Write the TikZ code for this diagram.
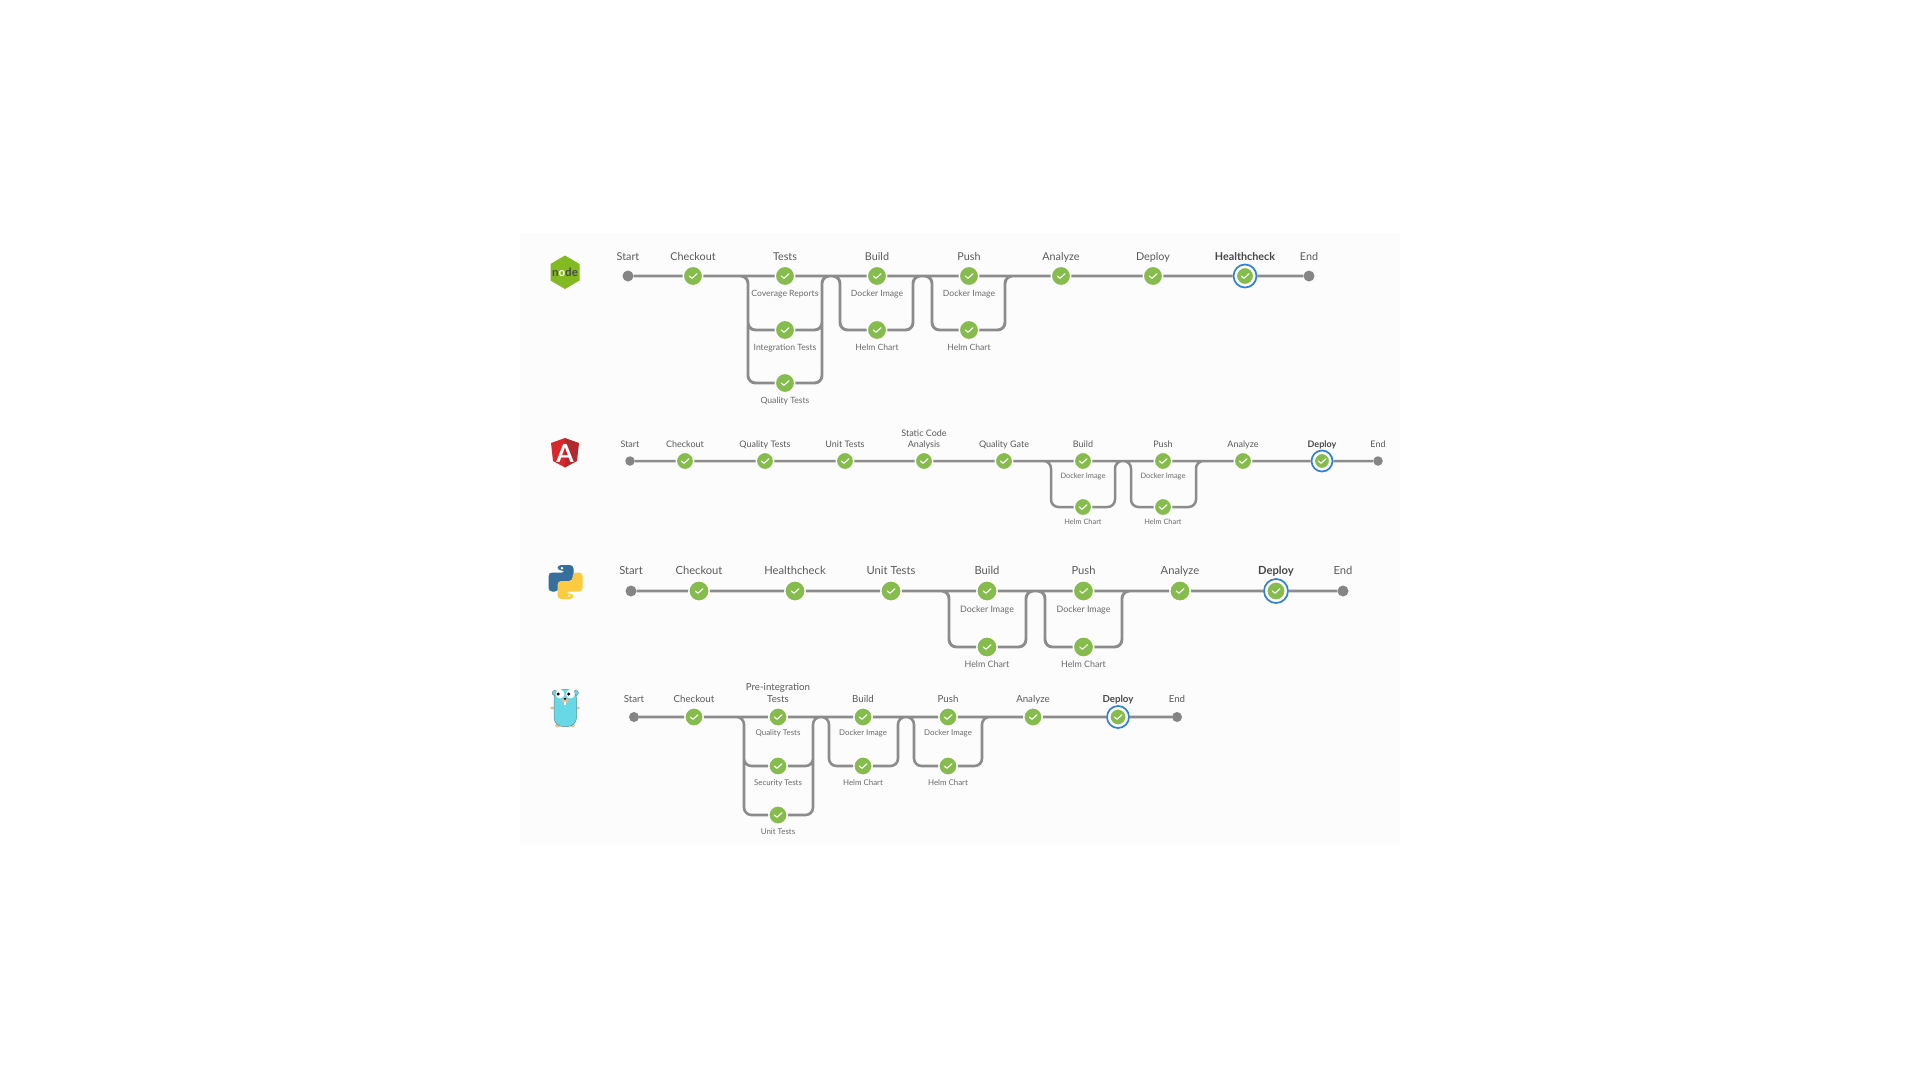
\documentclass[tikz,border=0pt]{standalone}
\usepackage{fontspec}
\setmainfont{Lato}
\usetikzlibrary{calc}
\definecolor{panelbg}{HTML}{FCFCFC}
\definecolor{pipegray}{HTML}{8C8C8C}
\definecolor{okgreen}{HTML}{86BC4E}
\definecolor{ringblue}{HTML}{2F80D8}
\definecolor{headtxt}{HTML}{5A5A5A}
\definecolor{subtxt}{HTML}{6A6A6A}
\definecolor{boldtxt}{HTML}{484848}
\definecolor{nodegreen}{HTML}{83BA22}
\definecolor{ngred}{HTML}{D9272E}
\definecolor{ngdark}{HTML}{B12A30}
\definecolor{pyblue}{HTML}{366F9E}
\definecolor{pyyellow}{HTML}{FDCB42}
\definecolor{gocyan}{HTML}{68D8E6}
\definecolor{goedge}{HTML}{5F8F96}
\definecolor{gotan}{HTML}{E8BE92}
\tikzset{
  okdot/.style={circle,minimum size=#1+1.4,inner sep=0pt,fill=okgreen,draw=white,line width=1.4pt,
    path picture={\draw[white,line width=1.05pt,line cap=round,line join=round,
      shift={(path picture bounding box.center)},scale=#1/18]
      (-3.7,0) -- (-1,2.3) -- (4,-2.3);}},
  ringdot/.style={circle,minimum size=#1,inner sep=0pt,fill=white,draw=ringblue,line width=1.7pt},
  enddot/.style={circle,minimum size=#1,inner sep=0pt,fill=pipegray!95!black},
  head/.style={font=\fontsize{#1}{#1}\selectfont,text=headtxt,anchor=base,inner sep=0pt,align=center},
  headb/.style={font=\fontsize{#1}{#1}\selectfont\bfseries,text=boldtxt,anchor=base,inner sep=0pt},
  sub/.style={font=\fontsize{#1}{#1}\selectfont,text=subtxt,anchor=base,inner sep=0pt},
  pipe/.style={draw=pipegray,line width=#1,rounded corners=7.5pt},
}
% name, x, y, dot size, label style, label baseline, label
\newcommand{\okstage}[7]{\node[okdot=#4] (#1) at (#2,#3) {};\node[#5] (#1t) at (#2,#6) {#7};}
\newcommand{\okactive}[7]{\node[ringdot=#4+5] (#1) at (#2,#3) {};\node[okdot=#4-2] (#1c) at (#2,#3) {};\node[#5] (#1t) at (#2,#6) {#7};}
\newcommand{\termstage}[7]{\node[enddot=#4] (#1) at (#2,#3) {};\node[#5] (#1t) at (#2,#6) {#7};}
\begin{document}
\begin{tikzpicture}[x=1pt,y=-1pt]
\useasboundingbox (0,0) rectangle (1920,1080);
\fill[white] (0,0) rectangle (1920,1080);
\fill[panelbg] (520,233) rectangle (1400,846);

% ---------- logos ----------
\fill[nodegreen] (565,255.5) -- (579.5,264) -- (579.5,280.5) -- (565,289) -- (550.5,280.5) -- (550.5,264) -- cycle;
\node[font=\fontsize{11.5}{12}\selectfont\bfseries,text=boldtxt,inner sep=0pt] (nodelogo) at (565,272) {n\textcolor{white}{o}de};

\fill[ngred] (565,438) -- (551,443) -- (553,461) -- (565,467.5) -- cycle;
\fill[ngdark] (565,438) -- (579,443) -- (577,461) -- (565,467.5) -- cycle;
\node[font=\fontsize{25}{25}\selectfont\bfseries,text=white,inner sep=0pt] (nglogo) at (565,453) {A};

\begin{scope}[shift={(565.5,582)}]
  \fill[pyblue,rounded corners=3.6pt] (-8,-17) -- (8,-17) -- (8,1) -- (-7,1) -- (-7,9.5) -- (-17,9.5) -- (-17,-9.5) -- (0,-9.5) -- (0,-11.5) -- (-8,-11.5) -- cycle;
  \fill[white] (-3.6,-13.8) circle (1.4);
  \begin{scope}[rotate=180]
    \fill[pyyellow,rounded corners=3.6pt] (-8,-17) -- (8,-17) -- (8,1) -- (-7,1) -- (-7,9.5) -- (-17,9.5) -- (-17,-9.5) -- (0,-9.5) -- (0,-11.5) -- (-8,-11.5) -- cycle;
    \fill[white] (-3.6,-13.8) circle (1.4);
  \end{scope}
\end{scope}

\fill[gotan] (552.5,708) ellipse (2.3 and 1.4);
\fill[gotan] (577.5,708) ellipse (2.3 and 1.4);
\fill[gotan] (557.5,725.5) ellipse (2.4 and 1.6);
\fill[gotan] (572.5,725.5) ellipse (2.4 and 1.6);
\filldraw[fill=gocyan,draw=goedge,line width=.5pt] (554.8,693) circle (2.6);
\filldraw[fill=gocyan,draw=goedge,line width=.5pt] (575.8,693) circle (2.6);
\filldraw[fill=gocyan,draw=goedge,line width=.5pt,rounded corners=9pt] (554,689.5) rectangle (576.5,726.5);
\fill[white] (560,694) circle (4.5);
\fill[white] (570.5,694) circle (4.5);
\fill[black] (558.2,694) circle (1.7);
\fill[black] (568.7,694) circle (1.7);
\fill[gotan] (565,700.5) ellipse (3.2 and 2.6);
\fill[black] (565,698.8) ellipse (1.5 and 1);
\fill[white] (563.8,702) rectangle (566.2,704.8);

% ---------- row 1 (Node) ----------
\termstage{aStart}{628}{276}{11}{head=10.8}{260.7}{Start}
\okstage{aChk}{693}{276}{18}{head=10.8}{260.7}{Checkout}
\okstage{aTst}{785}{276}{18}{head=10.8}{260.7}{Tests}
\okstage{aBld}{877}{276}{18}{head=10.8}{260.7}{Build}
\okstage{aPsh}{969}{276}{18}{head=10.8}{260.7}{Push}
\okstage{aAna}{1061}{276}{18}{head=10.8}{260.7}{Analyze}
\okstage{aDep}{1153}{276}{18}{head=10.8}{260.7}{Deploy}
\okactive{aHc}{1245}{276}{18}{headb=10.8}{260.7}{Healthcheck}
\termstage{aEnd}{1309}{276}{11}{head=10.8}{260.7}{End}
\node[sub=8.6] (aCov) at (785,296.7) {Coverage Reports};
\node[sub=8.6] (aBldS) at (877,296.7) {Docker Image};
\node[sub=8.6] (aPshS) at (969,296.7) {Docker Image};
\okstage{aInt}{785}{330}{18}{sub=8.6}{350.3}{Integration Tests}
\okstage{aQua}{785}{383}{18}{sub=8.6}{403.7}{Quality Tests}
\okstage{aHb}{877}{330}{18}{sub=8.6}{350.3}{Helm Chart}
\okstage{aHp}{969}{330}{18}{sub=8.6}{350.3}{Helm Chart}
\coordinate (aL1) at (748,330); \coordinate (aL2) at (748,383);
\coordinate (aR1) at (822,330); \coordinate (aR2) at (822,383);
\coordinate (aBL) at (840,330); \coordinate (aBR) at (913,330);
\coordinate (aPL) at (932,330); \coordinate (aPR) at (1005,330);
\draw[pipe=2.9pt]
  (aStart) -- (aChk)
  (aChk) -- (aTst)
  (aTst) -- (aBld)
  (aBld) -- (aPsh)
  (aPsh) -- (aAna)
  (aAna) -- (aDep)
  (aDep) -- (aHc)
  (aHc) -- (aEnd)
  (aChk) -| (aL1) -- (aInt)
  (aChk) -| (aL2) -- (aQua)
  (aInt) -- (aR1) |- (aBld)
  (aQua) -- (aR2) |- (aBld)
  (aTst) -| (aBL) -- (aHb)
  (aHb) -- (aBR) |- (aPsh)
  (aBld) -| (aPL) -- (aHp)
  (aHp) -- (aPR) |- (aAna);

% ---------- row 2 (Angular) ----------
\termstage{bStart}{630}{461}{9.5}{head=9}{447.3}{Start}
\okstage{bChk}{685}{461}{16}{head=9}{447.3}{Checkout}
\okstage{bQt}{765}{461}{16}{head=9}{447.3}{Quality Tests}
\okstage{bUt}{845}{461}{16}{head=9}{447.3}{Unit Tests}
\okstage{bSca}{924}{461}{16}{head=9}{447.3}{Static Code\\[2pt]Analysis}
\okstage{bQg}{1004}{461}{16}{head=9}{447.3}{Quality Gate}
\okstage{bBld}{1083}{461}{16}{head=9}{447.3}{Build}
\okstage{bPsh}{1163}{461}{16}{head=9}{447.3}{Push}
\okstage{bAna}{1243}{461}{16}{head=9}{447.3}{Analyze}
\okactive{bDep}{1322}{461}{16}{headb=9}{447.3}{Deploy}
\termstage{bEnd}{1378}{461}{9.5}{head=9}{447.3}{End}
\node[sub=7.4] (bBldS) at (1083,478.3) {Docker Image};
\node[sub=7.4] (bPshS) at (1163,478.3) {Docker Image};
\okstage{bHb}{1083}{507}{16}{sub=7.4}{524.7}{Helm Chart}
\okstage{bHp}{1163}{507}{16}{sub=7.4}{524.7}{Helm Chart}
\coordinate (bBL) at (1051,507); \coordinate (bBR) at (1115,507);
\coordinate (bPL) at (1131,507); \coordinate (bPR) at (1196,507);
\draw[pipe=2.5pt]
  (bStart) -- (bChk)
  (bChk) -- (bQt)
  (bQt) -- (bUt)
  (bUt) -- (bSca)
  (bSca) -- (bQg)
  (bQg) -- (bBld)
  (bBld) -- (bPsh)
  (bPsh) -- (bAna)
  (bAna) -- (bDep)
  (bDep) -- (bEnd)
  (bQg) -| (bBL) -- (bHb)
  (bHb) -- (bBR) |- (bPsh)
  (bBld) -| (bPL) -- (bHp)
  (bHp) -- (bPR) |- (bAna);

% ---------- row 3 (Python) ----------
\termstage{cStart}{631}{591}{11}{head=11.2}{574.3}{Start}
\okstage{cChk}{699}{591}{19}{head=11.2}{574.3}{Checkout}
\okstage{cHc}{795}{591}{19}{head=11.2}{574.3}{Healthcheck}
\okstage{cUt}{891}{591}{19}{head=11.2}{574.3}{Unit Tests}
\okstage{cBld}{987}{591}{19}{head=11.2}{574.3}{Build}
\okstage{cPsh}{1083.5}{591}{19}{head=11.2}{574.3}{Push}
\okstage{cAna}{1180}{591}{19}{head=11.2}{574.3}{Analyze}
\okactive{cDep}{1276}{591}{19}{headb=11.2}{574.3}{Deploy}
\termstage{cEnd}{1343}{591}{11}{head=11.2}{574.3}{End}
\node[sub=8.9] (cBldS) at (987,612) {Docker Image};
\node[sub=8.9] (cPshS) at (1083.5,612) {Docker Image};
\okstage{cHb}{987}{647}{19}{sub=8.9}{667.7}{Helm Chart}
\okstage{cHp}{1083.5}{647}{19}{sub=8.9}{667.7}{Helm Chart}
\coordinate (cBL) at (949,647); \coordinate (cBR) at (1026,647);
\coordinate (cPL) at (1045,647); \coordinate (cPR) at (1122,647);
\draw[pipe=2.9pt]
  (cStart) -- (cChk)
  (cChk) -- (cHc)
  (cHc) -- (cUt)
  (cUt) -- (cBld)
  (cBld) -- (cPsh)
  (cPsh) -- (cAna)
  (cAna) -- (cDep)
  (cDep) -- (cEnd)
  (cUt) -| (cBL) -- (cHb)
  (cHb) -- (cBR) |- (cPsh)
  (cBld) -| (cPL) -- (cHp)
  (cHp) -- (cPR) |- (cAna);

% ---------- row 4 (Go) ----------
\termstage{dStart}{634}{717}{10}{head=9.7}{702.3}{Start}
\okstage{dChk}{694}{717}{17}{head=9.7}{702.3}{Checkout}
\okstage{dPit}{778}{717}{17}{head=9.7}{702.3}{Pre-integration\\[2.3pt]Tests}
\okstage{dBld}{863}{717}{17}{head=9.7}{702.3}{Build}
\okstage{dPsh}{948}{717}{17}{head=9.7}{702.3}{Push}
\okstage{dAna}{1033}{717}{17}{head=9.7}{702.3}{Analyze}
\okactive{dDep}{1118}{717}{17}{headb=9.7}{702.3}{Deploy}
\termstage{dEnd}{1177}{717}{10}{head=9.7}{702.3}{End}
\node[sub=7.9] (dQua) at (778,735.7) {Quality Tests};
\node[sub=7.9] (dBldS) at (863,735.7) {Docker Image};
\node[sub=7.9] (dPshS) at (948,735.7) {Docker Image};
\okstage{dSec}{778}{766}{17}{sub=7.9}{785}{Security Tests}
\okstage{dUni}{778}{815}{17}{sub=7.9}{834}{Unit Tests}
\okstage{dHb}{863}{766}{17}{sub=7.9}{785}{Helm Chart}
\okstage{dHp}{948}{766}{17}{sub=7.9}{785}{Helm Chart}
\coordinate (dL1) at (744,766); \coordinate (dL2) at (744,815);
\coordinate (dR1) at (813,766); \coordinate (dR2) at (813,815);
\coordinate (dBL) at (829,766); \coordinate (dBR) at (898,766);
\coordinate (dPL) at (914,766); \coordinate (dPR) at (982,766);
\draw[pipe=2.6pt]
  (dStart) -- (dChk)
  (dChk) -- (dPit)
  (dPit) -- (dBld)
  (dBld) -- (dPsh)
  (dPsh) -- (dAna)
  (dAna) -- (dDep)
  (dDep) -- (dEnd)
  (dChk) -| (dL1) -- (dSec)
  (dChk) -| (dL2) -- (dUni)
  (dSec) -- (dR1) |- (dBld)
  (dUni) -- (dR2) |- (dBld)
  (dPit) -| (dBL) -- (dHb)
  (dHb) -- (dBR) |- (dPsh)
  (dBld) -| (dPL) -- (dHp)
  (dHp) -- (dPR) |- (dAna);
\end{tikzpicture}
\end{document}
